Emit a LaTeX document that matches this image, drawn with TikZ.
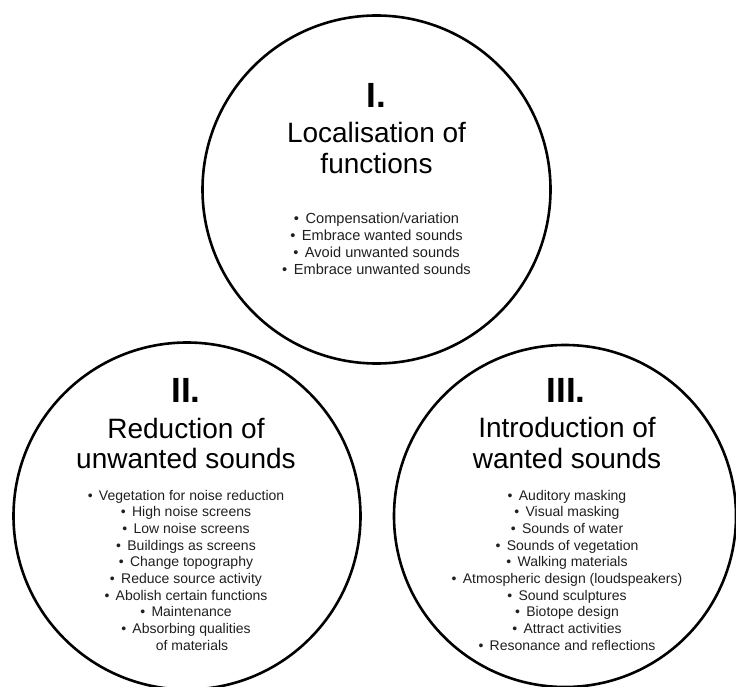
\documentclass[tikz,border=0pt]{standalone}
\usepackage{fontspec}
\setmainfont{Liberation Sans}
\begin{document}
\begin{tikzpicture}[x=1pt,y=-1pt,
  ring/.style={circle, draw, line width=2.6pt, inner sep=0pt},
  numeral/.style={anchor=base, inner sep=0pt, font=\fontsize{35}{35}\selectfont\bfseries},
  heading/.style={anchor=base, inner sep=0pt, font=\fontsize{28}{31}\selectfont},
  item/.style={anchor=base, inner sep=0pt, text=black!88, font=\fontsize{14}{16}\selectfont}]
\useasboundingbox (0,0) rectangle (736,687);

% Tres ámbitos
\node[ring, minimum size=348pt] (loc) at (376.5,189.5) {};
\node[ring, minimum size=347pt] (red) at (187,516) {};
\node[ring, minimum size=342pt] (intro) at (565,516) {};

% I. Localisation of functions
\node[numeral] (loc-n) at (376.5,108) {I.};
\node[heading] (loc-h1) at (376.5,143) {Localisation of};
\node[heading] (loc-h2) at (376.5,174) {functions};
\foreach \t [count=\i from 0] in {Compensation/variation, Embrace wanted sounds,
    Avoid unwanted sounds, Embrace unwanted sounds} {
    \node[item, font=\fontsize{14.6}{16}\selectfont] (loc-\i) at (376.5,224+16.7*\i) {\textbullet\hspace{0.45em}\t};
}

% II. Reduction of unwanted sounds
\node[numeral] (red-n) at (186,402) {II.};
\node[heading] (red-h1) at (186,438) {Reduction of};
\node[heading] (red-h2) at (186,468) {unwanted sounds};
\foreach \t [count=\i from 0] in {Vegetation for noise reduction, High noise screens,
    Low noise screens, Buildings as screens, Change topography, Reduce source activity,
    Abolish certain functions, Maintenance, Absorbing qualities} {
    \node[item] (red-\i) at (186,500+16.7*\i) {\textbullet\hspace{0.45em}\t};
}
\node[item] (red-9) at (192,650.3) {of materials};

% III. Introduction of wanted sounds
\node[numeral] (intro-n) at (566,402) {III.};
\node[heading] (intro-h1) at (567,437) {Introduction of};
\node[heading] (intro-h2) at (567,468) {wanted sounds};
\foreach \t [count=\i from 0] in {Auditory masking, Visual masking, Sounds of water,
    Sounds of vegetation, Walking materials, {Atmospheric design (loudspeakers)},
    Sound sculptures, Biotope design, Attract activities, Resonance and reflections} {
    \node[item] (intro-\i) at (567,500+16.7*\i) {\textbullet\hspace{0.45em}\t};
}

\end{tikzpicture}
\end{document}
